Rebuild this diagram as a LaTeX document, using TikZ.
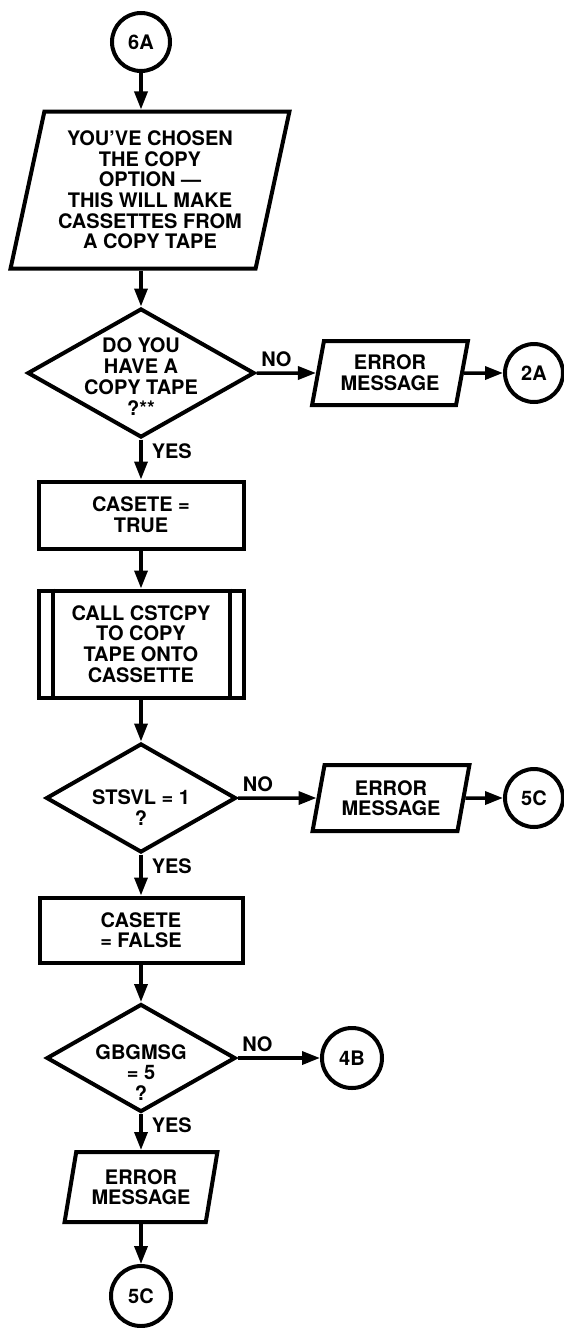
\documentclass[tikz,border=0pt]{standalone}
\usepackage{fontspec}
\setmainfont{TeX Gyre Heros}
\usetikzlibrary{shapes.geometric, arrows.meta, positioning}

% text set inside a diamond without widening it
\newcommand{\qtext}[2][-8pt]{\makebox[0pt]{\raisebox{#1}[0pt][0pt]{\begin{tabular}{@{}c@{}}#2\end{tabular}}}}

\begin{document}
\begin{tikzpicture}[x=1pt, y=-1pt,
  every node/.style={font=\bfseries\fontsize{20}{20.6}\selectfont, align=center},
  box/.style={draw, line width=4pt, rectangle, inner sep=0pt},
  io/.style={draw, line width=4pt, trapezium, trapezium left angle=76,
    trapezium right angle=104, trapezium stretches=true, inner sep=0pt},
  decision/.style={draw, line width=4pt, diamond, inner sep=0pt},
  onpage/.style={draw, line width=4pt, circle, minimum size=58pt, inner sep=0pt},
  flow/.style={line width=3.5pt, -{Triangle[length=18pt, width=13pt]}},
  nolabel/.style={anchor=south west, inner xsep=3pt, inner ysep=5pt},
  yeslabel/.style={anchor=north west, inner xsep=9pt, inner ysep=2pt}
]
  \useasboundingbox (0,0) rectangle (564,1328);

  % Main column
  \node[onpage] (c6A) at (141,42) {6A};
  \node[io, minimum width=279pt, minimum height=157pt] (p1) at (150,190)
    {YOU'VE CHOSEN\\THE COPY\\OPTION —\\THIS WILL MAKE\\CASSETTES FROM\\A COPY TAPE};
  \node[decision, minimum width=227pt, minimum height=129pt] (d1) at (141,373)
    {\qtext[-12pt]{DO YOU\\HAVE A\\COPY TAPE\\?**}};
  \node[box, minimum width=205pt, minimum height=67pt] (r1) at (141,515) {CASETE =\\TRUE};
  \node[box, minimum width=205pt, minimum height=107pt] (call) at (141,644)
    {CALL CSTCPY\\TO COPY\\TAPE ONTO\\CASSETTE};
  \draw[line width=4pt] ([xshift=16pt]call.north west) -- ([xshift=16pt]call.south west);
  \draw[line width=4pt] ([xshift=-16pt]call.north east) -- ([xshift=-16pt]call.south east);
  \node[decision, minimum width=190pt, minimum height=109pt] (d2) at (141,798)
    {\qtext[-18pt]{STSVL = 1\\?}};
  \node[box, minimum width=203pt, minimum height=65pt] (r2) at (141,930) {CASETE\\= FALSE};
  \node[decision, minimum width=189pt, minimum height=108pt] (d3) at (141,1058)
    {\qtext[-23pt]{GBGMSG\\= 5\\?}};
  \node[io, minimum width=153pt, minimum height=70pt] (em3) at (141,1187) {ERROR\\MESSAGE};
  \node[onpage, minimum size=60pt] (c5Cb) at (141,1296) {5C};

  % Side branches
  \node[io, minimum width=156pt, minimum height=64pt] (em1) at (390,373) {ERROR\\MESSAGE};
  \node[onpage] (c2A) at (534,373) {2A};
  \node[io, minimum width=157pt, minimum height=66pt] (em2) at (391,798) {ERROR\\MESSAGE};
  \node[onpage] (c5Ca) at (534,798) {5C};
  \node[onpage, minimum size=60pt] (c4B) at (352,1058) {4B};

  % Connectors
  \draw[flow] (c6A) -- (c6A |- p1.north);
  \draw[flow] (d1.north |- p1.south) -- (d1);
  \draw[flow] (d1) -- node[nolabel, pos=0] {NO} (em1);
  \draw[flow] (em1) -- (c2A);
  \draw[flow] (d1) -- node[yeslabel, pos=0] {YES} (r1);
  \draw[flow] (r1) -- (call);
  \draw[flow] (call) -- (d2);
  \draw[flow] (d2) -- node[nolabel, pos=0] {NO} (em2);
  \draw[flow] (em2) -- (c5Ca);
  \draw[flow] (d2) -- node[yeslabel, pos=0] {YES} (r2);
  \draw[flow] (r2) -- (d3);
  \draw[flow] (d3) -- node[nolabel, pos=0] {NO} (c4B);
  \draw[flow] (d3) -- node[yeslabel, pos=0] {YES} (em3);
  \draw[flow] (em3) -- (c5Cb);
\end{tikzpicture}
\end{document}
